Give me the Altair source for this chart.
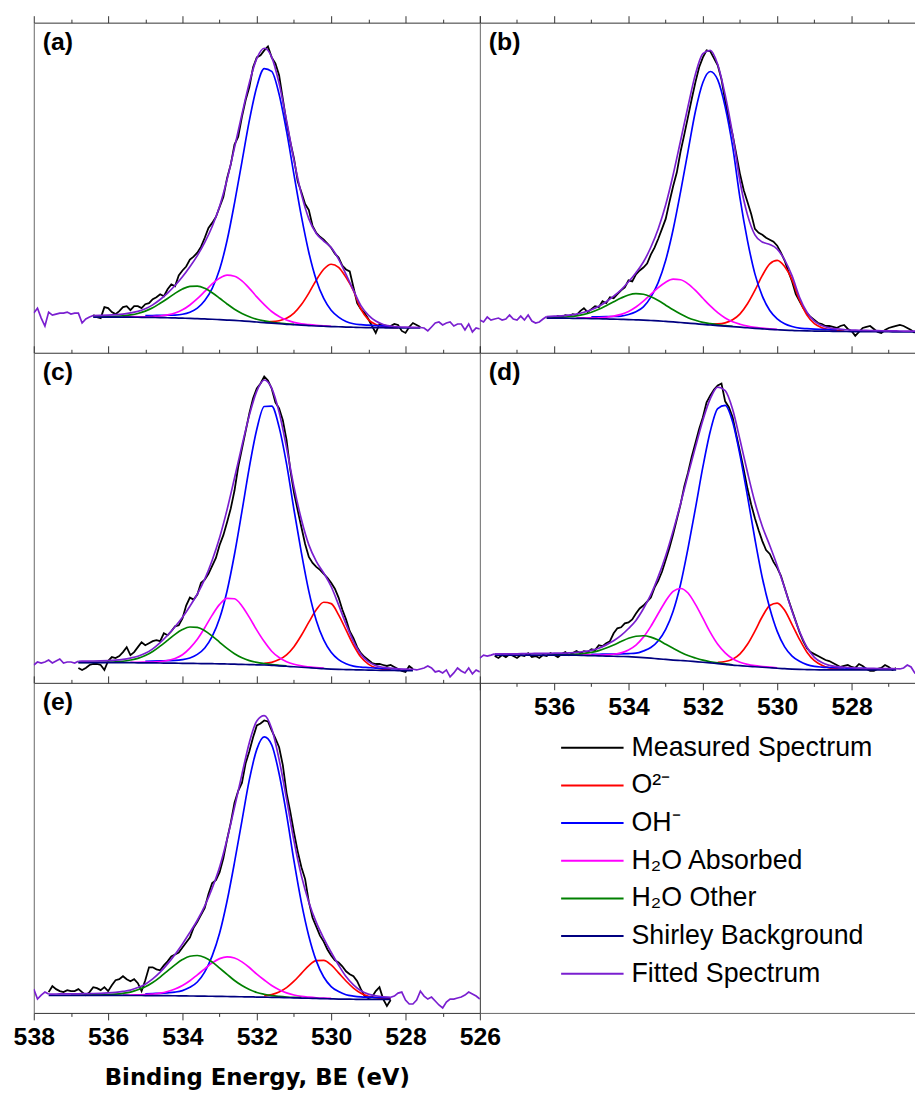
import altair as alt
import pandas as pd

# ---------------- series / colours ----------------
SERIES = ["Measured Spectrum", "O²⁻", "OH⁻", "H₂O Absorbed", "H₂O Other",
          "Shirley Background", "Fitted Spectrum"]
COLORS = ["#000000", "#ff0000", "#0000ff", "#ff00ff", "#008000", "#000080", "#7a1fd0"]
MAJOR = [538, 536, 534, 532, 530, 528, 526]
MINOR = [537, 535, 533, 531, 529, 527]

# ---------------- panel (a) ----------------
A_START = 536.4
A_BG = [36.0, 36.0, 36.0, 36.0, 35.9, 35.9, 35.8, 35.7, 35.6, 35.5, 35.3, 35.1, 34.9, 34.7, 34.4, 34.1, 33.8, 33.4, 33.0, 32.6, 32.1, 31.6, 31.0, 30.4, 29.8, 29.3, 28.7, 28.3, 27.8, 27.4, 27.0, 26.7, 26.4, 26.2, 25.9, 25.7, 25.5, 25.4, 25.3, 25.2, 25.1, 25.1, 25.0, 25.0, 25.0]
A_FIT = [37.5, 37.7, 38.0, 38.4, 39.0, 40.2, 41.7, 44.4, 48.3, 53.7, 60.2, 67.8, 76.6, 86.7, 98.0, 111.4, 127.4, 147.7, 174.7, 206.9, 240.6, 272.5, 297.0, 307.2, 298.3, 271.7, 234.4, 194.2, 160.0, 135.1, 120.3, 112.7, 106.1, 94.5, 79.0, 63.0, 47.5, 38.0, 32.0, 28.5, 27.0, 26.2, 25.8, 25.6, 25.5]
A_O2_START = 531.8
A_O2 = [31.2, 31.4, 32.3, 34.8, 40.0, 48.6, 60.2, 73.3, 84.2, 89.3, 86.2, 76.0, 62.6, 44.0, 33.5, 28.5, 26.5, 25.6, 25.2]
A_OH_START = 535.0
A_OH = [37.5, 37.6, 37.7, 37.8, 38.0, 38.8, 40.9, 45.0, 52.7, 65.0, 84.2, 113.2, 151.0, 192.6, 234.4, 268.4, 286.6, 283.9, 260.7, 223.5, 179.7, 137.5, 101.2, 73.4, 54.8, 42.9, 36.0, 31.6, 29.3, 28.3, 27.8, 27.4, 27.1, 26.8]
A_H2OA_START = 535.6
A_H2OA = [36.3, 36.4, 36.3, 36.3, 36.6, 37.1, 38.2, 40.1, 43.3, 48.2, 54.5, 61.9, 69.5, 75.3, 78.3, 77.2, 72.5, 65.0, 56.3, 48.5, 41.6, 36.6, 33.0, 30.7, 29.2, 28.3, 27.6, 27.1, 26.7]
A_H2OO_START = 536.4
A_H2OO = [36.3, 36.4, 36.5, 36.8, 37.3, 38.2, 39.6, 42.0, 45.3, 49.9, 54.8, 59.9, 64.3, 67.0, 67.3, 65.0, 60.5, 55.0, 49.2, 43.9, 39.7, 36.3, 33.8, 32.1, 30.8, 30.0, 29.2, 28.7]
A_MEAS_START = 536.4
A_MEAS = [38, 36, 35, 46, 45, 41, 39, 42, 46, 47, 43, 47, 47, 45, 49, 50, 54, 56, 59, 57, 64, 69, 67, 78, 83, 87, 94, 97, 101, 107, 116, 126, 131, 137, 147, 157, 176, 190, 210, 218, 238, 255, 268, 288, 298, 300, 305, 309, 298, 292, 280, 256, 232, 213, 196, 173, 162, 150, 144, 128, 121, 117, 114, 110, 106, 100, 96, 88, 84, 82, 66, 50, 44, 40, 34, 27, 20, 29, 28, 27, 27, 29, 28, 22, 20, 26, 30, 28, 26]
A_NOISE_L = [40, 45, 35, 27, 41, 38, 39, 40, 40, 41, 39, 40, 40, 30, 34, 36, 37.5]
A_NOISE_R_START = 527.6
A_NOISE_R = [25.5, 25, 22, 26, 30, 31, 28, 30, 31, 27, 29, 29, 23, 29, 21, 25, 24]

# ---------------- panel (b) ----------------
B_START = 536.2
B_BG = [35.0, 35.0, 34.9, 34.8, 34.7, 34.6, 34.5, 34.3, 34.1, 33.9, 33.7, 33.5, 33.2, 32.9, 32.5, 32.1, 31.6, 31.1, 30.5, 29.9, 29.3, 28.6, 28.0, 27.4, 26.9, 26.3, 25.8, 25.2, 24.6, 24.1, 23.6, 23.2, 22.8, 22.5, 22.2, 22.0, 21.9, 21.8, 21.7, 21.6, 21.5, 21.4, 21.4, 21.3, 21.3, 21.2, 21.2, 21.1, 21.1, 21.0, 21.0]
B_FIT = [36.6, 36.9, 37.2, 38.0, 39.0, 40.8, 43.4, 46.8, 51.5, 57.1, 63.5, 71.6, 80.8, 91.5, 106.4, 125.1, 149.3, 179.6, 213.9, 248.6, 281.1, 301.7, 305.1, 290.7, 260.1, 220.4, 172.5, 139.1, 118.9, 111.7, 109.2, 104.6, 93.7, 77.5, 56.0, 40.8, 31.8, 27.4, 25.1, 24.0, 23.3, 22.8, 22.7, 22.5, 22.4, 22.2, 22.1, 22.0, 21.9, 21.8, 21.7]
B_O2_START = 531.8
B_O2 = [28.9, 29.1, 30.2, 33.2, 39.2, 49.4, 62.9, 78.0, 89.7, 93.2, 86.9, 73.5, 53.2, 38.0, 29.4, 25.3, 23.2, 22.3, 21.8]
B_OH_START = 535.0
B_OH = [36.3, 36.3, 36.4, 36.6, 37.0, 38.6, 41.4, 46.2, 56.1, 71.0, 93.3, 124.3, 162.3, 203.2, 243.6, 272.6, 283.7, 275.2, 248.1, 208.1, 155.8, 113.2, 79.6, 57.1, 42.6, 34.2, 29.3, 26.5, 24.8, 24.3, 23.9, 23.6, 23.3, 23.0]
B_H2OA_START = 535.4
B_H2OA = [35.1, 35.1, 35.2, 35.3, 35.8, 36.9, 38.7, 41.7, 46.2, 52.1, 58.9, 65.7, 71.2, 74.2, 73.6, 69.5, 62.9, 55.0, 47.2, 40.4, 35.1, 31.3, 28.8, 26.9, 25.6, 24.8, 24.1, 23.6]
B_H2OO_START = 536.2
B_H2OO = [35.4, 35.6, 35.8, 36.3, 37.2, 38.7, 40.9, 43.8, 47.5, 51.4, 55.2, 58.3, 59.6, 59.0, 56.4, 52.6, 48.0, 43.3, 39.0, 35.4, 32.8, 30.7, 29.3, 28.2, 27.4, 26.7]
B_MEAS_START = 536.2
B_MEAS = [35, 36, 35, 37, 36, 38, 37, 39, 38, 42, 45, 41, 44, 47, 46, 52, 50, 56, 55, 59, 63, 66, 73, 72, 79, 83, 86, 90, 99, 106, 115, 125, 135, 152, 168, 182, 203, 220, 238, 256, 273, 288, 298, 305, 304, 297, 290, 276, 254, 236, 220, 200, 180, 164, 152, 140, 125, 121, 119, 116, 114, 112, 108, 101, 93, 82, 72, 59, 52, 45, 40, 36, 33, 30, 29, 27, 27, 26, 25, 27, 28, 24, 22, 17, 21, 25, 26, 27, 24, 21, 20, 23, 25, 26, 27, 28, 27, 25, 23, 20]
B_NOISE_L = [33, 31, 36, 33, 34, 35, 33, 34, 38, 34, 33, 37, 33, 38, 32, 30, 31, 34, 36.6]
B_NOISE_R_START = 526.2
B_NOISE_R = [21.7]

# ---------------- panel (c) ----------------
C_START = 536.8
C_BG = [20.3, 20.3, 20.3, 20.3, 20.3, 20.3, 20.3, 20.3, 20.2, 20.2, 20.1, 20.0, 19.9, 19.8, 19.7, 19.6, 19.5, 19.4, 19.3, 19.2, 19.0, 18.8, 18.6, 18.4, 18.2, 18.0, 17.6, 17.2, 16.7, 16.2, 15.7, 15.2, 14.7, 14.3, 13.9, 13.6, 13.4, 13.2, 13.0, 12.9, 12.7, 12.6, 12.5, 12.4, 12.3, 12.3]
C_FIT = [21.8, 21.9, 22.0, 22.2, 22.5, 22.9, 23.7, 25.0, 26.8, 29.8, 34.3, 40.6, 48.0, 56.5, 66.1, 77.3, 89.6, 104.6, 123.7, 146.7, 174.7, 206.6, 239.2, 270.1, 294.3, 305.5, 297.4, 273.1, 237.4, 197.7, 164.8, 139.2, 122.6, 110.8, 97.2, 78.7, 59.2, 41.9, 28.9, 21.4, 17.4, 15.6, 14.7, 14.0, 13.8, 13.7]
C_O2_START = 531.8
C_O2 = [19.7, 20.7, 23.5, 28.3, 36.5, 48.0, 61.2, 73.7, 81.3, 79.9, 68.6, 53.4, 38.2, 26.0, 18.9, 15.2, 13.6, 12.9]
C_OH_START = 535.0
C_OH = [21.8, 21.9, 22.1, 22.4, 22.6, 23.4, 25.1, 28.7, 35.2, 46.8, 65.1, 92.7, 129.7, 173.0, 217.7, 255.8, 278.8, 279.2, 258.0, 220.8, 174.6, 131.1, 92.3, 63.0, 43.3, 30.8, 23.4, 19.2, 16.9, 15.9, 15.4, 14.9, 14.6, 14.3, 14.0]
C_H2OA_START = 535.4
C_H2OA = [20.8, 20.8, 20.9, 21.0, 21.5, 22.5, 24.6, 28.4, 35.1, 44.0, 55.6, 68.3, 79.1, 85.3, 84.8, 77.6, 66.0, 53.2, 41.6, 31.9, 25.5, 21.3, 18.7, 17.1, 16.1, 15.3, 14.8]
C_H2OO_START = 536.8
C_H2OO = [20.6, 20.6, 20.7, 20.7, 20.9, 21.2, 21.8, 23.0, 24.7, 27.5, 31.6, 37.0, 42.9, 48.9, 53.7, 56.3, 55.9, 52.6, 47.2, 40.9, 34.7, 29.4, 25.3, 22.4, 20.6, 19.4, 18.4, 17.7, 17.1]
C_MEAS_START = 536.8
C_MEAS = [15, 13, 15, 18, 19, 19, 18, 13, 22, 26, 25, 27, 31, 36, 28, 31, 36, 41, 38, 40, 42, 43, 42, 50, 48, 52, 57, 58, 65, 78, 86, 84, 89, 101, 104, 110, 118, 126, 139, 149, 162, 176, 194, 218, 236, 254, 272, 287, 297, 302, 309, 305, 297, 283, 277, 265, 245, 215, 192, 174, 157, 140, 127, 121, 117, 114, 110, 106, 101, 95, 86, 74, 64, 52, 45, 36, 30, 26, 23, 20, 19, 19, 18, 17, 18, 16, 14, 12, 11, 17, 14]
C_NOISE_L = [18, 21, 20, 21, 23, 20, 22, 24, 20, 21, 21, 20, 21.8]
C_NOISE_R_START = 527.8
C_NOISE_R = [13.7, 13, 14, 15, 17, 15, 11, 12, 10, 13, 6, 10, 15, 12, 10, 15, 9, 13, 11]

# ---------------- panel (d) ----------------
D_START = 537.6
D_BG = [28.0, 28.0, 28.0, 28.0, 28.0, 28.0, 28.0, 28.0, 28.0, 28.0, 27.9, 27.8, 27.6, 27.4, 27.2, 27.0, 26.8, 26.6, 26.4, 26.0, 25.5, 24.9, 24.2, 23.6, 23.0, 22.5, 22.0, 21.4, 20.8, 20.1, 19.4, 18.7, 17.9, 17.3, 16.7, 16.2, 15.7, 15.2, 14.7, 14.3, 13.9, 13.6, 13.4, 13.2, 13.1, 13.0, 13.0, 13.0, 13.0, 13.0, 13.0, 13.0, 13.0, 13.0, 13.0]
D_FIT = [29.2, 29.2, 29.3, 29.3, 29.5, 29.6, 29.7, 29.7, 29.9, 30.0, 30.3, 30.7, 31.6, 32.8, 34.9, 38.3, 42.4, 47.8, 54.8, 63.0, 74.7, 88.9, 107.1, 128.3, 153.3, 180.6, 209.8, 237.8, 265.0, 286.7, 298.3, 294.8, 276.0, 245.0, 212.4, 182.2, 157.8, 138.6, 118.2, 95.6, 72.2, 52.0, 35.9, 25.7, 20.5, 17.6, 16.3, 15.7, 15.2, 14.7, 14.6, 14.5, 14.4, 14.3, 14.2]
D_O2_START = 531.6
D_O2 = [20.8, 21.5, 23.8, 29.2, 38.9, 52.2, 66.9, 78.0, 80.5, 73.2, 58.8, 43.9, 30.9, 22.3, 17.7, 15.1, 14.1, 13.7]
D_OH_START = 535.0
D_OH = [28.8, 28.8, 29.0, 29.0, 29.2, 29.5, 29.9, 32.1, 35.6, 42.5, 54.0, 72.3, 99.5, 135.7, 176.0, 217.8, 253.8, 276.7, 279.9, 263.4, 229.5, 188.3, 145.1, 105.8, 75.2, 51.9, 36.3, 27.0, 21.7, 18.4, 16.6, 15.9, 15.5, 15.2, 15.0, 14.8, 14.7, 14.6]
D_H2OA_START = 535.4
D_H2OA = [28.3, 28.2, 28.1, 28.0, 28.2, 28.8, 30.2, 33.2, 38.1, 46.1, 57.0, 69.9, 82.6, 92.2, 95.2, 90.6, 79.2, 65.3, 50.9, 38.9, 30.3, 24.3, 20.7, 18.6, 17.3, 16.5, 15.8, 15.2]
D_H2OO_START = 536.2
D_H2OO = [28.2, 28.3, 28.4, 28.6, 28.9, 29.6, 30.7, 32.5, 35.1, 38.2, 41.6, 44.9, 47.0, 47.5, 46.1, 43.1, 38.9, 34.8, 30.9, 27.5, 25.0, 22.9, 21.3, 20.1, 19.2, 18.2]
D_MEAS_START = 537.6
D_MEAS = [27, 25, 28, 26, 29, 27, 25, 28, 27, 30, 26, 27, 25, 28, 27, 30, 28, 26, 29, 31, 28, 30, 32, 30, 32, 31, 34, 33, 38, 37, 40, 42, 50, 55, 56, 60, 61, 64, 70, 75, 78, 82, 86, 96, 103, 112, 124, 136, 150, 165, 180, 198, 212, 228, 242, 256, 268, 283, 290, 296, 300, 302, 284, 278, 268, 250, 233, 215, 196, 180, 166, 154, 143, 134, 130, 122, 116, 108, 96, 84, 73, 62, 51, 42, 35, 31, 29, 27, 25, 23, 22, 20, 18, 16, 17, 18, 16, 15, 19, 17, 14, 12, 12, 14, 15, 18, 16, 13, 15]
D_NOISE_L = [25, 28, 27, 28, 29.2]
D_NOISE_R_START = 526.8
D_NOISE_R = [14.2, 14, 15, 18, 16, 10, 12]

# ---------------- panel (e) ----------------
E_START = 537.6
E_BG = [17.7, 17.7, 17.7, 17.7, 17.7, 17.7, 17.7, 17.7, 17.7, 17.7, 17.7, 17.6, 17.6, 17.5, 17.5, 17.4, 17.4, 17.3, 17.2, 17.1, 17.0, 16.9, 16.8, 16.7, 16.6, 16.4, 16.3, 16.2, 16.0, 15.9, 15.7, 15.6, 15.4, 15.2, 15.0, 14.8, 14.6, 14.4, 14.2, 14.0, 13.9, 13.8, 13.7, 13.7, 13.7, 13.7, 13.7]
E_FIT = [19.0, 19.1, 19.2, 19.3, 19.3, 19.5, 19.6, 19.8, 20.2, 20.8, 21.7, 23.0, 25.6, 29.0, 34.3, 41.1, 49.5, 59.0, 69.6, 81.3, 93.5, 108.0, 125.9, 147.2, 175.2, 207.4, 240.7, 272.9, 294.6, 300.0, 287.0, 255.7, 215.9, 173.5, 138.3, 111.7, 91.3, 75.3, 61.2, 48.3, 36.7, 28.3, 22.4, 19.0, 17.3, 16.3, 15.8]
E_O2_START = 531.8
E_O2 = [17.3, 18.5, 21.1, 25.5, 32.0, 39.9, 47.7, 52.7, 53.0, 48.4, 40.4, 32.2, 25.1, 19.9, 16.8, 15.3, 14.5, 14.2]
E_OH_START = 535.0
E_OH = [19.3, 19.6, 19.8, 20.3, 21.0, 22.5, 25.8, 31.2, 41.4, 57.6, 80.6, 112.9, 151.8, 193.8, 235.3, 265.9, 278.4, 270.5, 241.3, 200.3, 153.3, 111.3, 77.4, 52.5, 36.2, 26.6, 21.6, 18.4, 17.0, 16.2, 15.9, 15.7, 15.5, 15.3]
E_H2OA_START = 535.6
E_H2OA = [18.1, 18.0, 18.2, 18.4, 19.0, 19.9, 21.6, 24.1, 27.7, 32.5, 38.4, 44.5, 50.5, 54.8, 56.6, 55.4, 51.5, 45.8, 39.2, 33.2, 27.6, 23.4, 20.2, 18.1, 16.7, 15.9, 15.3, 14.9, 14.6]
E_H2OO_START = 537.0
E_H2OO = [18.0, 18.0, 18.1, 18.2, 18.3, 18.5, 19.0, 19.8, 21.0, 23.3, 26.3, 30.7, 36.2, 42.4, 48.5, 53.8, 57.2, 57.9, 55.9, 51.4, 45.2, 38.9, 32.7, 27.6, 23.6, 20.6, 18.8, 17.5, 16.7, 16.1, 15.7, 15.4]
E_MEAS_START = 537.6
E_MEAS = [21, 27, 24, 22, 21, 23, 22, 22, 24, 21, 18, 21, 26, 25, 23, 26, 22, 28, 33, 34, 37, 34, 32, 34, 30, 22, 33, 46, 46, 44, 43, 48, 52, 57, 59, 61, 66, 71, 76, 86, 92, 99, 106, 120, 131, 134, 142, 156, 175, 192, 212, 224, 232, 252, 264, 278, 290, 292, 295, 294, 285, 277, 268, 250, 222, 203, 182, 163, 147, 135, 112, 96, 87, 78, 72, 64, 58, 53, 51, 47, 42, 39, 37, 32, 24, 17, 15, 16, 22, 26, 14, 7, 13]
E_NOISE_L = [24, 14, 18, 21, 19.0]
E_NOISE_R_START = 528.4
E_NOISE_R = [15.8, 17, 20, 21, 13, 9, 9, 13, 22, 17, 14, 16, 12, 8, 5, 11, 14, 14, 15, 16, 18, 21, 19, 17, 14]

# ---------------- helpers ----------------
AX = "#333333"
YAX = "#666666"
H = 333
LEFT_W, RIGHT_W = 450, 439
LEFT_LOW, RIGHT_LOW = 526.0, 526.2933


def grid(start, n, step):
    return [round(start - i * step, 3) for i in range(n)]


def part(name, start, vals, step, seg="m"):
    return pd.DataFrame({"be": grid(start, len(vals), step), "inten": vals,
                         "series": name, "seg": seg})


PANELS = {
    "a": dict(label="(a)", start=A_START, bg=A_BG, fit=A_FIT, o2=(A_O2_START, A_O2),
              oh=(A_OH_START, A_OH), h2oa=(A_H2OA_START, A_H2OA), h2oo=(A_H2OO_START, A_H2OO),
              meas=(A_MEAS_START, A_MEAS), nl=A_NOISE_L, nr=(A_NOISE_R_START, A_NOISE_R)),
    "b": dict(label="(b)", start=B_START, bg=B_BG, fit=B_FIT, o2=(B_O2_START, B_O2),
              oh=(B_OH_START, B_OH), h2oa=(B_H2OA_START, B_H2OA), h2oo=(B_H2OO_START, B_H2OO),
              meas=(B_MEAS_START, B_MEAS), nl=B_NOISE_L, nr=(B_NOISE_R_START, B_NOISE_R)),
    "c": dict(label="(c)", start=C_START, bg=C_BG, fit=C_FIT, o2=(C_O2_START, C_O2),
              oh=(C_OH_START, C_OH), h2oa=(C_H2OA_START, C_H2OA), h2oo=(C_H2OO_START, C_H2OO),
              meas=(C_MEAS_START, C_MEAS), nl=C_NOISE_L, nr=(C_NOISE_R_START, C_NOISE_R)),
    "d": dict(label="(d)", start=D_START, bg=D_BG, fit=D_FIT, o2=(D_O2_START, D_O2),
              oh=(D_OH_START, D_OH), h2oa=(D_H2OA_START, D_H2OA), h2oo=(D_H2OO_START, D_H2OO),
              meas=(D_MEAS_START, D_MEAS), nl=D_NOISE_L, nr=(D_NOISE_R_START, D_NOISE_R)),
    "e": dict(label="(e)", start=E_START, bg=E_BG, fit=E_FIT, o2=(E_O2_START, E_O2),
              oh=(E_OH_START, E_OH), h2oa=(E_H2OA_START, E_H2OA), h2oo=(E_H2OO_START, E_H2OO),
              meas=(E_MEAS_START, E_MEAS), nl=E_NOISE_L, nr=(E_NOISE_R_START, E_NOISE_R)),
}

CSCALE = alt.Scale(domain=SERIES, range=COLORS)
LEG = alt.Legend(orient="none", legendX=550, legendY=718, title=None,
                 symbolType="M-3,0H3", symbolSize=441, symbolStrokeWidth=2,
                 labelFont="Liberation Sans", labelFontSize=27, labelColor="black",
                 labelOffset=26, rowPadding=10, labelLimit=600, padding=0)


def make_panel(key, width, low, bottom=False, title=None, hide538=False):
    p = PANELS[key]
    xs = alt.Scale(domain=[low, 538], reverse=True, nice=False, zero=False)
    ys = alt.Scale(domain=[0, H], nice=False, zero=False)
    major = [v for v in MAJOR if v >= low]
    minor = [v for v in MINOR if v >= low]

    ax_top = alt.Axis(orient="top", values=major, labels=False, tickSize=7, tickColor=AX,
                      domainColor=AX, grid=False, title=None)
    ax_top_min = alt.Axis(orient="top", values=minor, labels=False, tickSize=3.5,
                          tickColor=AX, domain=False, grid=False, title=None)
    ax_y = alt.Axis(orient="left", ticks=False, labels=False, domainColor=YAX,
                    grid=False, title=None)
    ax_bot = None
    ax_bot_min = None
    if bottom:
        kw = dict(orient="bottom", values=major, tickSize=7, tickColor=AX, domainColor=AX,
                  grid=False, labelFont="Liberation Sans", labelFontSize=25,
                  labelFontWeight="bold", labelColor="black", labelPadding=5,
                  labelFlush=False, labelOverlap=False, format="d")
        if hide538:
            kw["labelExpr"] = "datum.value == 538 ? '' : datum.label"
        if title:
            kw.update(title=title, titleFont="DejaVu Sans", titleFontSize=23,
                      titleFontWeight="bold", titleColor="black", titlePadding=17)
        else:
            kw["title"] = None
        ax_bot = alt.Axis(**kw)
        ax_bot_min = alt.Axis(orient="bottom", values=minor, labels=False, tickSize=3.5,
                              tickColor=AX, domain=False, grid=False, title=None)

    st = p["start"]
    noise = pd.concat([part(SERIES[6], 538.0, p["nl"], 0.1, "L"),
                       part(SERIES[6], p["nr"][0], p["nr"][1], 0.1, "R")])
    specs = [
        (part(SERIES[0], p["meas"][0], p["meas"][1], 0.1), "linear", 1.8, ax_top, ax_y),
        (part(SERIES[1], p["o2"][0], p["o2"][1], 0.2), "monotone", 1.7, ax_top_min, None),
        (part(SERIES[2], p["oh"][0], p["oh"][1], 0.2), "monotone", 1.7, ax_bot, None),
        (part(SERIES[3], p["h2oa"][0], p["h2oa"][1], 0.2), "monotone", 1.7, ax_bot_min, None),
        (part(SERIES[4], p["h2oo"][0], p["h2oo"][1], 0.2), "monotone", 1.7, None, None),
        (part(SERIES[5], st, p["bg"], 0.2), "monotone", 1.7, None, None),
        (part(SERIES[6], st, p["fit"], 0.2), "monotone", 1.7, None, None),
        (noise, "linear", 1.7, None, None),
    ]
    layers = []
    for df, interp, sw, xa, ya in specs:
        layers.append(
            alt.Chart(df).mark_line(interpolate=interp, strokeWidth=sw, clip=True).encode(
                x=alt.X("be:Q", scale=xs, axis=xa),
                y=alt.Y("inten:Q", scale=ys, axis=ya),
                color=alt.Color("series:N", scale=CSCALE, legend=LEG),
                detail="seg:N",
            )
        )
    return alt.layer(*layers).resolve_axis(x="independent", y="independent").properties(
        width=width, height=H,
        title=alt.TitleParams(text=p["label"], anchor="start", frame="group", orient="top",
                              offset=0, dx=9, dy=40, baseline="top",
                              font="Liberation Sans", fontSize=25, fontWeight="bold",
                              color="black"),
    )


pa = make_panel("a", LEFT_W, LEFT_LOW)
pb = make_panel("b", RIGHT_W, RIGHT_LOW)
pc = make_panel("c", LEFT_W, LEFT_LOW)
pdd = make_panel("d", RIGHT_W, RIGHT_LOW, bottom=True, hide538=True)
pe = make_panel("e", LEFT_W, LEFT_LOW, bottom=True, title="Binding Energy, BE (eV)")

cell = alt.Chart(pd.DataFrame({"x": [], "y": []})).mark_point().encode(
    x=alt.X("x:Q", scale=alt.Scale(domain=[0, 1]),
            axis=alt.Axis(orient="bottom", ticks=False, labels=False, domainColor=YAX,
                          grid=False, title=None)),
    y=alt.Y("y:Q", scale=alt.Scale(domain=[0, 1]),
            axis=alt.Axis(ticks=False, labels=False, domainColor=AX, grid=False, title=None)),
).properties(width=RIGHT_W, height=H)

chart = alt.concat(pa, pb, pc, pdd, pe, cell, columns=2, spacing=0, bounds="flush").properties(
    padding={"left": 5, "top": 2, "right": 0, "bottom": 0},
    background="white",
).configure_view(strokeWidth=0)

chart.save("out.html", embed_options={"renderer": "svg", "actions": False})
